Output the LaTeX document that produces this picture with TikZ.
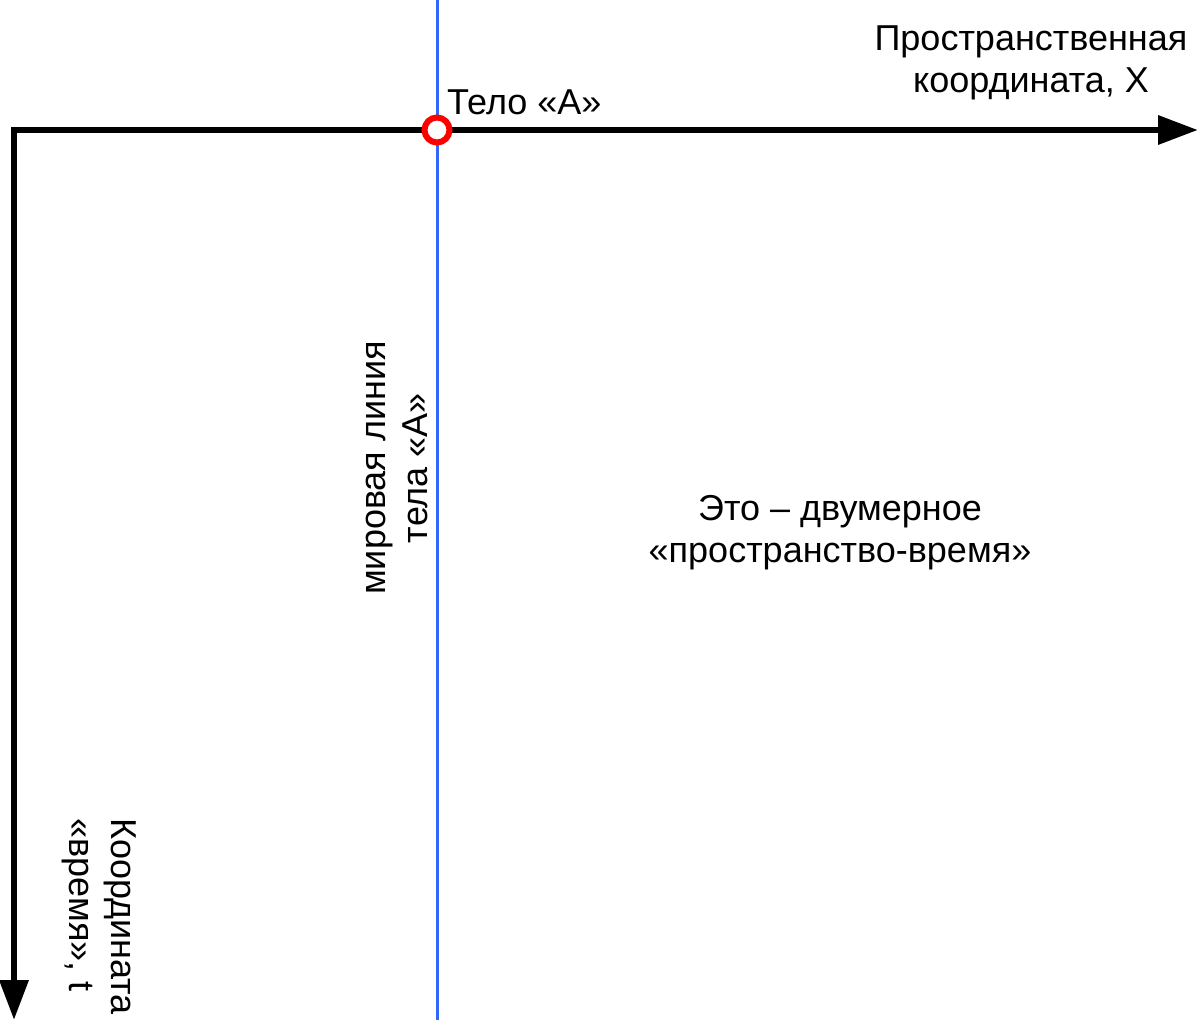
\documentclass[tikz,border=0pt]{standalone}
\usepackage{fontspec}
\setmainfont{Liberation Sans}
\usetikzlibrary{arrows.meta,positioning}

\begin{document}
\begin{tikzpicture}[x=1pt, y=-1pt,
    axis/.style={line width=6.5pt, {Triangle[length=40pt,width=28pt]}-{Triangle[length=40pt,width=28pt]}},
    worldline/.style={line width=3pt, draw={rgb,255:red,51;green,102;blue,255}},
    body/.style={circle, draw=red, fill=white, line width=6pt, minimum size=25pt, inner sep=0pt},
    label/.style={inner sep=0pt, font=\fontsize{36}{42}\selectfont, text=black}]
    \useasboundingbox (0,0) rectangle (1200,1027);

    \coordinate (origin) at (14,130);
    \coordinate (xend) at (1198,130);
    \coordinate (tend) at (14,1020);
    \coordinate (linetop) at (437,0);
    \coordinate (linebottom) at (437,1020);

    \draw [axis] (xend) -- (origin) -- (tend);
    \draw [worldline] (linetop) -- (linebottom);
    \node (bodyA) [body] at (437,130) {};

    \node (bodyname) [label, anchor=base west] at (447,115) {Тело «А»};
    \node (xlabel) [label, align=center] at (1031,63) {Пространственная\\координата, X};
    \node (spacetime) [label, align=center] at (840,533) {Это – двумерное\\«пространство-время»};
    \node (wllabel) [label, align=center, rotate=90] at (397,468) {мировая линия\\тела «А»};
    \node (tlabel) [label, align=left, rotate=-90, anchor=north west] at (136,818) {Координата\\«время», t};
\end{tikzpicture}
\end{document}
